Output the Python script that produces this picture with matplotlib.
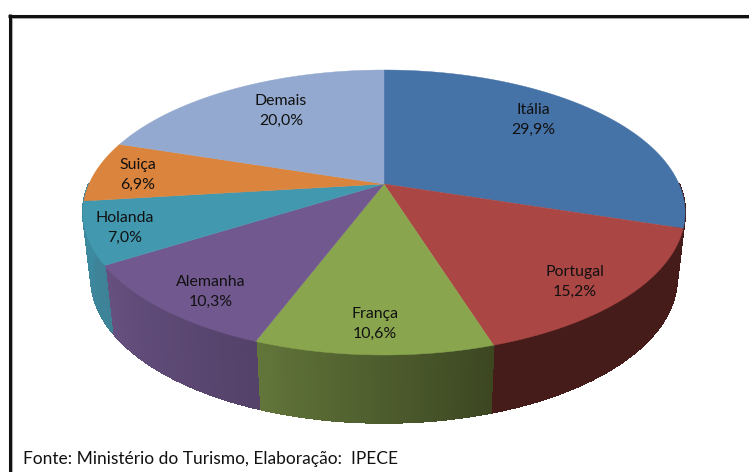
import numpy as np
import matplotlib
matplotlib.use("Agg")
import matplotlib.pyplot as plt
from matplotlib.patches import Polygon

plt.rcParams['font.family'] = ['Lato', 'DejaVu Sans']

# data
paises = ['Itália', 'Portugal', 'França', 'Alemanha', 'Holanda', 'Suiça', 'Demais']
valores = [29.9, 15.2, 10.6, 10.3, 7.0, 6.9, 20.0]
rotulos = ['29,9%', '15,2%', '10,6%', '10,3%', '7,0%', '6,9%', '20,0%']
cores = ['#4572A7', '#AA4643', '#89A54E', '#71588F', '#4198AF', '#DB843D', '#93A9CF']
# colour of the outer wall at the left and right end of each slice
lado_esq = ['#451C1A', '#451C1A', '#62753A', '#66507F', '#3C8AA0', '#3C8AA0', '#3C8AA0']
lado_dir = ['#451C1A', '#451C1A', '#3C4722', '#54426A', '#3E8297', '#3C8AA0', '#3C8AA0']
fonte = 'Fonte: Ministério do Turismo, Elaboração:  IPECE'

cx = 384
k = 0.2  # perspective of the disc


def proj(theta, r, b, cy):
    # theta clockwise from the top, in degrees
    t = np.radians(theta)
    w = 1 + k * np.cos(t)
    return cx + r * np.sin(t) / w, cy - b * np.cos(t) / w


def hexrgb(c):
    return np.array(matplotlib.colors.to_rgb(c))


fig = plt.figure(figsize=(7.49, 4.72), dpi=100)
ax = fig.add_axes([0, 0, 1, 1])
ax.set_xlim(0, 749)
ax.set_ylim(472, 0)
ax.axis('off')

# frame, open on the right and at the bottom
ax.plot([11.5, 11.5], [17, 472], color='#A8A8A8', lw=1.2, zorder=1, solid_capstyle='butt')
ax.plot([11, 749], [18, 18], color='#A8A8A8', lw=1.4, zorder=1, solid_capstyle='butt')
ax.plot([9.5, 9.5], [14, 472], color='#111111', lw=2.2, zorder=2, solid_capstyle='butt')
ax.plot([8, 749], [15.5, 15.5], color='#111111', lw=2.2, zorder=2, solid_capstyle='butt')

limites = np.concatenate([[0], np.cumsum(valores)]) / sum(valores) * 360

# outer wall, only the front part shows
for i in range(len(valores)):
    a0, a1 = max(limites[i], 90), min(limites[i + 1], 270)
    if a1 <= a0:
        continue
    angs = np.linspace(a0, a1, 60)
    for j in range(len(angs) - 1):
        # angles run right to left along the front
        f = j / (len(angs) - 2)
        cor = hexrgb(lado_dir[i]) * (1 - f) + hexrgb(lado_esq[i]) * f
        x1, y1 = proj(angs[j], 295, 136.8, 184)
        x2, y2 = proj(angs[j + 1], 295, 136.8, 184)
        x3, y3 = proj(angs[j + 1], 287, 139, 249)
        x4, y4 = proj(angs[j], 287, 139, 249)
        ax.add_patch(Polygon([(x1, y1), (x2, y2), (x3, y3), (x4, y4)], fc=cor, ec=cor,
                             lw=0.8, antialiased=False, zorder=3))

# top of the disc
for i in range(len(valores)):
    angs = np.linspace(limites[i], limites[i + 1], 120)
    xs, ys = proj(angs, 295, 136.8, 184)
    pts = [(cx, 184)] + list(zip(xs, ys))
    ax.add_patch(Polygon(pts, fc=cores[i], ec=cores[i], lw=0.3, zorder=4))

# labels, placed by hand as in the original
pos = [(533, 120), (575, 282), (375, 324), (211, 292), (125, 228), (138, 175), (281, 111)]
for (x, y), p, r in zip(pos, paises, rotulos):
    ax.text(x, y, p + '\n' + r, ha='center', va='center', fontsize=11.4,
            color='#111111', linespacing=1.55, zorder=5)

ax.text(23, 459, fonte, ha='left', va='center', fontsize=12.5, color='#111111', zorder=5)

fig.savefig('out.png', dpi=100)
